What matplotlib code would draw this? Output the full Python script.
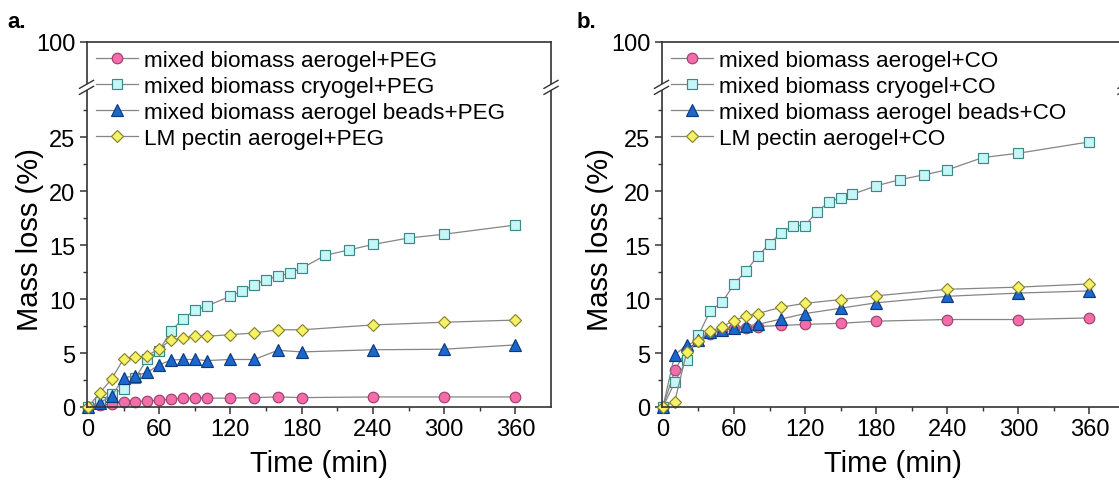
import numpy as np
import matplotlib
matplotlib.use("Agg")
import matplotlib.pyplot as plt
from matplotlib.patches import Polygon
from matplotlib.lines import Line2D

plt.rcParams['font.family'] = ['Liberation Sans', 'DejaVu Sans']

# ---- sampling times (min) ----
t_peg = [0, 10, 20, 30, 40, 50, 60, 70, 80, 90, 100, 120, 140, 160, 180, 240, 300, 360]
t_peg_cryo = [0, 10, 20, 30, 40, 50, 60, 70, 80, 90, 100, 120, 130, 140, 150, 160,
              170, 180, 200, 220, 240, 270, 300, 360]
t_co = [0, 10, 20, 30, 40, 50, 60, 70, 80, 100, 120, 150, 180, 240, 300, 360]
t_co_cryo = [0, 10, 20, 30, 40, 50, 60, 70, 80, 90, 100, 110, 120, 130, 140, 150,
             160, 180, 200, 220, 240, 270, 300, 360]

# ---- mass loss (%) in PEG ----
aerogel_peg = [0, 0.2, 0.25, 0.45, 0.5, 0.55, 0.62, 0.75, 0.8, 0.85, 0.82, 0.82,
               0.87, 0.93, 0.87, 0.93, 0.93, 0.93]
cryogel_peg = [0, 0.5, 1.2, 1.7, 2.7, 4.45, 5.2, 7.07, 8.15, 8.95, 9.35, 10.25, 10.75,
               11.3, 11.8, 12.1, 12.4, 12.85, 14.05, 14.55, 15.05, 15.65, 16.0, 16.85]
beads_peg = [0, 0.4, 1.0, 2.7, 2.9, 3.2, 3.9, 4.35, 4.4, 4.4, 4.3, 4.4, 4.4, 5.25,
             5.1, 5.3, 5.35, 5.75]
pectin_peg = [0, 1.3, 2.6, 4.45, 4.6, 4.75, 5.4, 6.2, 6.35, 6.6, 6.55, 6.7, 6.85,
              7.15, 7.15, 7.6, 7.85, 8.05]

# ---- mass loss (%) in CO ----
aerogel_co = [0, 3.4, 5.3, 6.1, 6.8, 7.1, 7.3, 7.35, 7.45, 7.55, 7.65, 7.75, 7.95,
              8.1, 8.1, 8.25]
cryogel_co = [0, 2.3, 4.35, 6.65, 8.93, 9.7, 11.37, 12.57, 13.97, 15.13, 16.15, 16.8,
              16.8, 18.1, 18.95, 19.4, 19.7, 20.48, 21.05, 21.5, 21.96, 23.1, 23.5, 24.55]
beads_co = [0, 4.85, 5.7, 6.2, 6.9, 7.15, 7.35, 7.5, 7.65, 8.15, 8.65, 9.15, 9.65,
            10.25, 10.55, 10.75]
pectin_co = [0, 0.5, 5.05, 6.15, 7.0, 7.45, 8.0, 8.4, 8.65, 9.25, 9.6, 9.95, 10.3,
             10.9, 11.1, 11.4]

x_ticks = [0, 60, 120, 180, 240, 300, 360]
y_ticks = [0, 5, 10, 15, 20, 25, 100]

# marker styles: (marker, size, face, edge)
styles = [
    ('o', 7.6, '#F26DAA', '#A33F6B'),
    ('s', 6.6, '#C6F7F7', '#3A8888'),
    ('^', 8.2, '#1B67CE', '#0C3A80'),
    ('D', 6.2, '#F6F166', '#878527'),
]

# broken y axis: linear up to BRK, strongly compressed above
BRK = 29.6
K = (33.8 - BRK) / (100 - BRK)


def fwd(v):
    v = np.asarray(v, dtype=float)
    return np.where(v <= BRK, v, BRK + (v - BRK) * K)


def inv(s):
    s = np.asarray(s, dtype=float)
    return np.where(s <= BRK, s, BRK + (s - BRK) / K)


W, H = 1119, 481
fig = plt.figure(figsize=(W / 100, H / 100), dpi=100)


def make_panel(left_px, right_px, series, medium, tag, tag_x):
    x0, x1, yb, yt = left_px, right_px, 408, 43
    wpx, hpx = x1 - x0, yb - yt
    ax = fig.add_axes([x0 / W, 1 - yb / H, wpx / W, hpx / H])
    ax.set_yscale('function', functions=(fwd, inv))
    labels = [f'mixed biomass aerogel+{medium}', f'mixed biomass cryogel+{medium}',
              f'mixed biomass aerogel beads+{medium}', f'LM pectin aerogel+{medium}']
    for (t, v), (m, ms, fc, ec), lab in zip(series, styles, labels):
        ax.plot(t, v, color='#858585', lw=0.9, marker=m, ms=ms, mfc=fc, mec=ec,
                mew=0.85, label=lab, clip_on=False)
    ax.set_xlim(-1.2, 390)
    ax.set_ylim(0, 100)
    ax.set_xticks(x_ticks)
    ax.set_xticks([30, 90, 150, 210, 270, 330], minor=True)
    ax.set_yticks(y_ticks)
    ax.set_yticks([2.5, 7.5, 12.5, 17.5, 22.5, 27.5], minor=True)
    ax.tick_params(axis='both', which='major', direction='out', length=5, width=1.1,
                   labelsize=17, color='#333333', pad=3)
    ax.tick_params(axis='both', which='minor', direction='out', length=3, width=1.0,
                   color='#333333')
    for sp in ax.spines.values():
        sp.set_linewidth(1.2)
        sp.set_color('#333333')
    ax.set_xlabel('Time (min)', fontsize=21)
    ax.set_ylabel('Mass loss (%)', fontsize=21)
    ax.xaxis.set_label_coords(0.5, -(464 - yb) / hpx)
    ax.xaxis.label.set_va('center')
    ax.yaxis.set_label_coords(-(x0 - (tag_x + 23)) / wpx, (yb - 240) / hpx)
    ax.yaxis.label.set_va('center')

    # axis-break marks on both vertical spines
    yb_frac = fwd(BRK) / fwd(100)
    dx, dy, gap = 7 / wpx, 4 / hpx, 3 / hpx
    for xs in (0, 1):
        poly = Polygon([(xs - dx, yb_frac - dy - gap), (xs + dx, yb_frac + dy - gap),
                        (xs + dx, yb_frac + dy + gap), (xs - dx, yb_frac - dy + gap)],
                       closed=True, transform=ax.transAxes, facecolor='white',
                       edgecolor='none', clip_on=False, zorder=5)
        ax.add_patch(poly)
        for g in (-gap, gap):
            ax.add_line(Line2D([xs - dx, xs + dx], [yb_frac - dy + g, yb_frac + dy + g],
                               transform=ax.transAxes, color='#333333', lw=1.0,
                               clip_on=False, zorder=6))

    ax.legend(loc='upper left', bbox_to_anchor=(0.0, 1.003), frameon=False,
              fontsize=16.2, handlelength=1.9, handletextpad=0.25, labelspacing=0.22,
              borderaxespad=0.2, borderpad=0.2)
    fig.text(tag_x / W, 1 - 22 / H, tag, fontsize=16, fontweight='bold',
             ha='left', va='center')
    return ax


make_panel(86.5, 551, [(t_peg, aerogel_peg), (t_peg_cryo, cryogel_peg),
                       (t_peg, beads_peg), (t_peg, pectin_peg)], 'PEG', 'a.', 7)
make_panel(661.5, 1125, [(t_co, aerogel_co), (t_co_cryo, cryogel_co),
                         (t_co, beads_co), (t_co, pectin_co)], 'CO', 'b.', 577)

fig.savefig('out.png', dpi=100)
